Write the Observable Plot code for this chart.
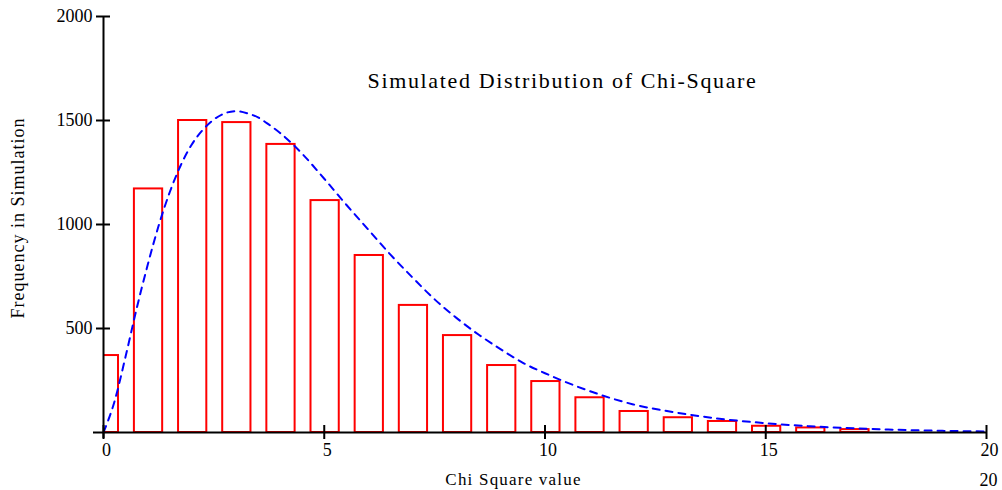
<!DOCTYPE html>
<html>
<head>
<meta charset="utf-8">
<script src="https://cdn.jsdelivr.net/npm/d3@7"></script>
<script src="https://cdn.jsdelivr.net/npm/@observablehq/plot@0.6"></script>
<style>
  html, body { margin: 0; padding: 0; background: #ffffff; }
  #chart svg { display: block; }
</style>
</head>
<body>
<div id="chart"></div>
<script>
// ---- Data ----
const binCenters = [0, 1, 2, 3, 4, 5, 6, 7, 8, 9, 10, 11, 12, 13, 14, 15, 16, 17];
const binCounts  = [370, 1171, 1500, 1490, 1385, 1115, 851, 611, 466, 322, 245, 167, 101, 71, 53, 30, 22, 14];

const curveX = [0, 0.25, 0.5, 0.75, 1, 1.25, 1.5, 1.75, 2, 2.25, 2.5, 2.75, 3, 3.25, 3.5, 3.75, 4, 4.5, 5, 5.5, 6, 6.5, 7, 7.5, 8, 8.5, 9, 9.5, 10, 11, 12, 13, 14, 15, 16, 17, 18, 19, 20];
const curveY = [0, 150, 365, 595, 805, 995, 1155, 1285, 1385, 1455, 1505, 1535, 1545, 1535, 1515, 1480, 1440, 1340, 1220, 1095, 975, 855, 745, 640, 550, 470, 400, 335, 285, 200, 135, 95, 65, 45, 30, 20, 13, 8, 5];

const xTicks = [0, 5, 10, 15, 20];
const yTicks = [500, 1000, 1500, 2000];

const titleText   = "Simulated Distribution of Chi-Square";
const xLabelText  = "Chi Square value";
const yLabelText  = "Frequency in Simulation";
const cornerText  = "20";

// ---- Tables built from the arrays ----
const bars  = binCenters.map((c, i) => ({center: c, count: binCounts[i]}));
const curve = curveX.map((x, i) => ({x, y: curveY[i]}));

const barLeft = 0.30, barRight = 0.34;   // bar extent around each bin centre
const font = "'Liberation Serif', 'Times New Roman', serif";

const chart = Plot.plot({
  width: 1002,
  height: 490,
  marginLeft: 103,
  marginRight: 16,
  marginTop: 16,
  marginBottom: 58,
  style: {fontFamily: font, background: "#ffffff", color: "#000000"},
  x: {domain: [0, 20]},
  y: {domain: [0, 2000]},
  marks: [
    Plot.rectY(bars, {
      x1: d => d.center - barLeft,
      x2: d => d.center + barRight,
      y: "count",
      fill: "none",
      stroke: "#ff0000",
      strokeWidth: 2,
      clip: true
    }),
    Plot.line(curve, {
      x: "x", y: "y",
      stroke: "#0000ff",
      strokeWidth: 2,
      strokeDasharray: "7,6",
      curve: "monotone-x"
    }),
    Plot.ruleX([0], {stroke: "#000", strokeWidth: 2, insetBottom: -6}),
    Plot.ruleY([0], {stroke: "#000", strokeWidth: 2, insetLeft: -10}),
    // crossing tick marks
    Plot.ruleX(xTicks, {x: d => d, y1: 0, y2: 0, insetTop: -7, insetBottom: -7, stroke: "#000", strokeWidth: 2}),
    Plot.ruleY(yTicks, {y: d => d, x1: 0, x2: 0, insetLeft: -7, insetRight: -7, stroke: "#000", strokeWidth: 2}),
    // tick labels
    Plot.axisX(xTicks, {tickSize: 0, tickPadding: 11, dx: 3, fontSize: 18, label: null, tickFormat: d => String(d)}),
    Plot.axisY(yTicks, {tickSize: 0, tickPadding: 11, fontSize: 18, label: null, tickFormat: d => String(d)}),
    // texts
    Plot.text([titleText], {text: d => d, frameAnchor: "top", textAnchor: "middle", lineAnchor: "middle",
      dx: 17.5, dy: 64, fontSize: 22, fill: "#000"}),
    Plot.text([yLabelText], {text: d => d, frameAnchor: "left", textAnchor: "middle", lineAnchor: "middle",
      rotate: -90, dx: -85, dy: -6.5, fontSize: 18, fill: "#000"}),
    Plot.text([xLabelText], {text: d => d, frameAnchor: "bottom", textAnchor: "middle", lineAnchor: "middle",
      dx: -31.5, dy: 47, fontSize: 17, fill: "#000"}),
    Plot.text([cornerText], {text: d => d, frameAnchor: "bottom-right", textAnchor: "middle", lineAnchor: "middle",
      dx: 2, dy: 48, fontSize: 18, fill: "#000"})
  ]
});

document.getElementById("chart").appendChild(chart);
const svg = d3.select(chart);
const spacing = new Map([[titleText, "1.65px"], [yLabelText, "1px"], [xLabelText, "1.2px"]]);
svg.selectAll("text").each(function () {
  const s = spacing.get(this.textContent);
  if (s) d3.select(this).attr("letter-spacing", s);
});
</script>
</body>
</html>
